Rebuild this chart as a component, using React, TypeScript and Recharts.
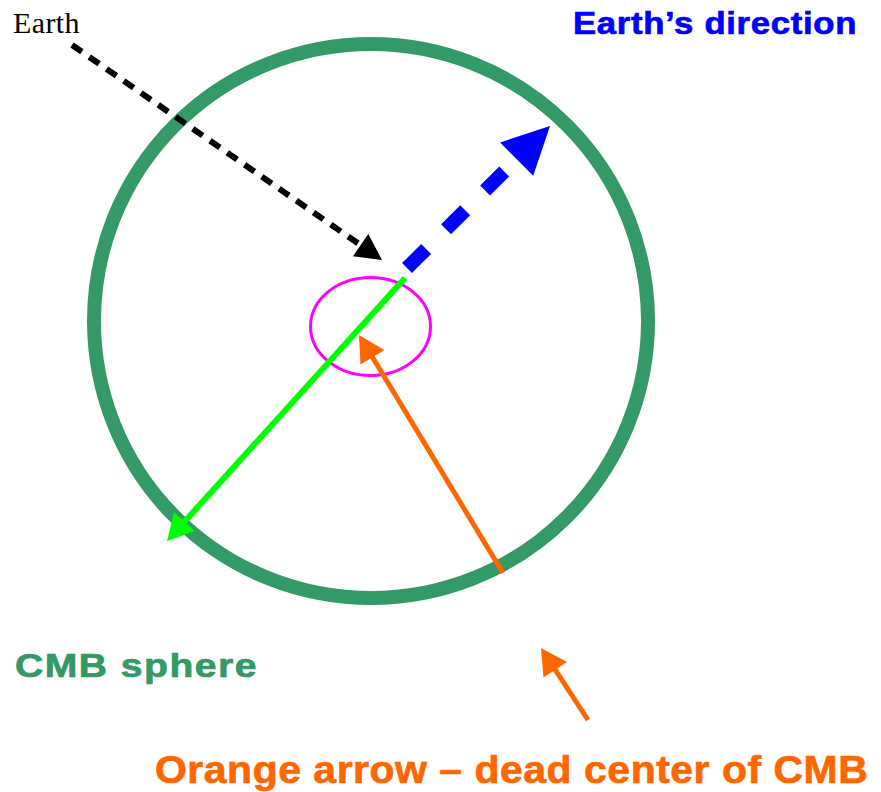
import { ComposedChart, XAxis, YAxis, Scatter } from 'recharts';

const W = 881;
const H = 792;

// rings (centre and radii, in picture units)
const ringNames = ['cmb', 'core'];
const ringCx = [371, 370.5];
const ringCy = [321, 326.5];
const ringRx = [277, 60];
const ringRy = [277, 49];

// arrows, tail to tip
const arrowNames = ['earth', 'direction', 'radius', 'center', 'pointer'];
const arrowStartX = [72, 407, 405, 503, 588];
const arrowStartY = [45, 268, 278, 573, 720];
const arrowTipX = [382, 550, 167, 359, 541];
const arrowTipY = [260, 126, 541, 335, 648];

// captions
const captionTexts = ['Earth', 'Earth\u2019s direction', 'CMB sphere', 'Orange arrow \u2013 dead center of CMB'];

const ringStyle: Record<string, { stroke: string; width: number }> = {
  cmb: { stroke: '#339966', width: 14 },
  core: { stroke: '#ff00ff', width: 3 },
};

const arrowStyle: Record<string, { stroke: string; width: number; dash?: string; head: number; headW: number }> = {
  earth: { stroke: '#000000', width: 6, dash: '12 9', head: 26, headW: 27 },
  direction: { stroke: '#0000ff', width: 14, dash: '27 28', head: 47, headW: 47 },
  radius: { stroke: '#00ff00', width: 6, head: 26, headW: 28 },
  center: { stroke: '#ff6600', width: 5, head: 26, headW: 28 },
  pointer: { stroke: '#ff6600', width: 5, head: 26, headW: 28 },
};

const sans = '"Liberation Sans", Arial, sans-serif';
const captionStyle = [
  { x: 13, y: 33, size: 30, fill: '#000000', family: '"Liberation Serif", "Times New Roman", serif', weight: 400, spacing: 0.4, sx: 1, edge: 0 },
  { x: 573, y: 34, size: 31, fill: '#0000ff', family: sans, weight: 700, spacing: 0.6, sx: 1.12, edge: 0.7 },
  { x: 15, y: 677, size: 34, fill: '#339966', family: sans, weight: 700, spacing: 1.3, sx: 1.15, edge: 0.7 },
  { x: 155, y: 783, size: 39, fill: '#ff6600', family: sans, weight: 700, spacing: 0.5, sx: 1.05, edge: 0.7 },
];

const rings = ringNames.map((name, i) => ({ name, x: ringCx[i], y: ringCy[i], rx: ringRx[i], ry: ringRy[i] }));

const arrows = arrowNames.map((name, i) => {
  const dx = arrowTipX[i] - arrowStartX[i];
  const dy = arrowTipY[i] - arrowStartY[i];
  const len = Math.hypot(dx, dy);
  return { name, ux: dx / len, uy: dy / len, i };
});

// shaft stops a bit inside the head so wide strokes do not poke out
const shafts = arrows.map((a) => {
  const st = arrowStyle[a.name];
  const back = st.head * 0.7;
  return {
    name: a.name,
    data: [
      { x: arrowStartX[a.i], y: arrowStartY[a.i] },
      { x: arrowTipX[a.i] - a.ux * back, y: arrowTipY[a.i] - a.uy * back },
    ],
  };
});

const heads = arrows.map((a) => ({ name: a.name, x: arrowTipX[a.i], y: arrowTipY[a.i], ux: a.ux, uy: a.uy }));

const RingShape = (props: any) => {
  const { cx, cy, payload } = props;
  const st = ringStyle[payload.name];
  return <ellipse cx={cx} cy={cy} rx={payload.rx} ry={payload.ry} fill="none" stroke={st.stroke} strokeWidth={st.width} />;
};

const HeadShape = (props: any) => {
  const { cx, cy, payload } = props;
  const st = arrowStyle[payload.name];
  const bx = cx - payload.ux * st.head;
  const by = cy - payload.uy * st.head;
  const nx = -payload.uy * (st.headW / 2);
  const ny = payload.ux * (st.headW / 2);
  const pts = `${cx},${cy} ${bx + nx},${by + ny} ${bx - nx},${by - ny}`;
  return <polygon points={pts} fill={st.stroke} />;
};

const NoPoint = () => <g />;

export default function App() {
  return (
    <div style={{ position: 'fixed', left: 0, top: 0, width: W, height: H, background: '#fff' }}>
      <ComposedChart width={W} height={H} margin={{ top: 0, right: 0, bottom: 0, left: 0 }} data={rings}>
        <XAxis type="number" dataKey="x" domain={[0, W]} hide allowDataOverflow />
        <YAxis type="number" dataKey="y" domain={[0, H]} reversed hide allowDataOverflow />
        <Scatter data={rings} shape={RingShape} isAnimationActive={false} />
        {shafts.map((s) => {
          const st = arrowStyle[s.name];
          return (
            <Scatter
              key={s.name}
              data={s.data}
              fill={st.stroke}
              line={{ stroke: st.stroke, strokeWidth: st.width, strokeDasharray: st.dash, fill: 'none' }}
              lineType="joint"
              shape={NoPoint}
              isAnimationActive={false}
            />
          );
        })}
        <Scatter data={heads} shape={HeadShape} isAnimationActive={false} />
      </ComposedChart>
      <svg width={W} height={H} style={{ position: 'absolute', left: 0, top: 0, pointerEvents: 'none' }}>
        {captionTexts.map((t, i) => {
          const c = captionStyle[i];
          return (
            <text
              key={t}
              transform={`translate(${c.x},${c.y}) scale(${c.sx},1)`}
              fontSize={c.size}
              fill={c.fill}
              stroke={c.edge ? c.fill : 'none'}
              strokeWidth={c.edge}
              fontFamily={c.family}
              fontWeight={c.weight}
              letterSpacing={c.spacing}
            >
              {t}
            </text>
          );
        })}
      </svg>
    </div>
  );
}
